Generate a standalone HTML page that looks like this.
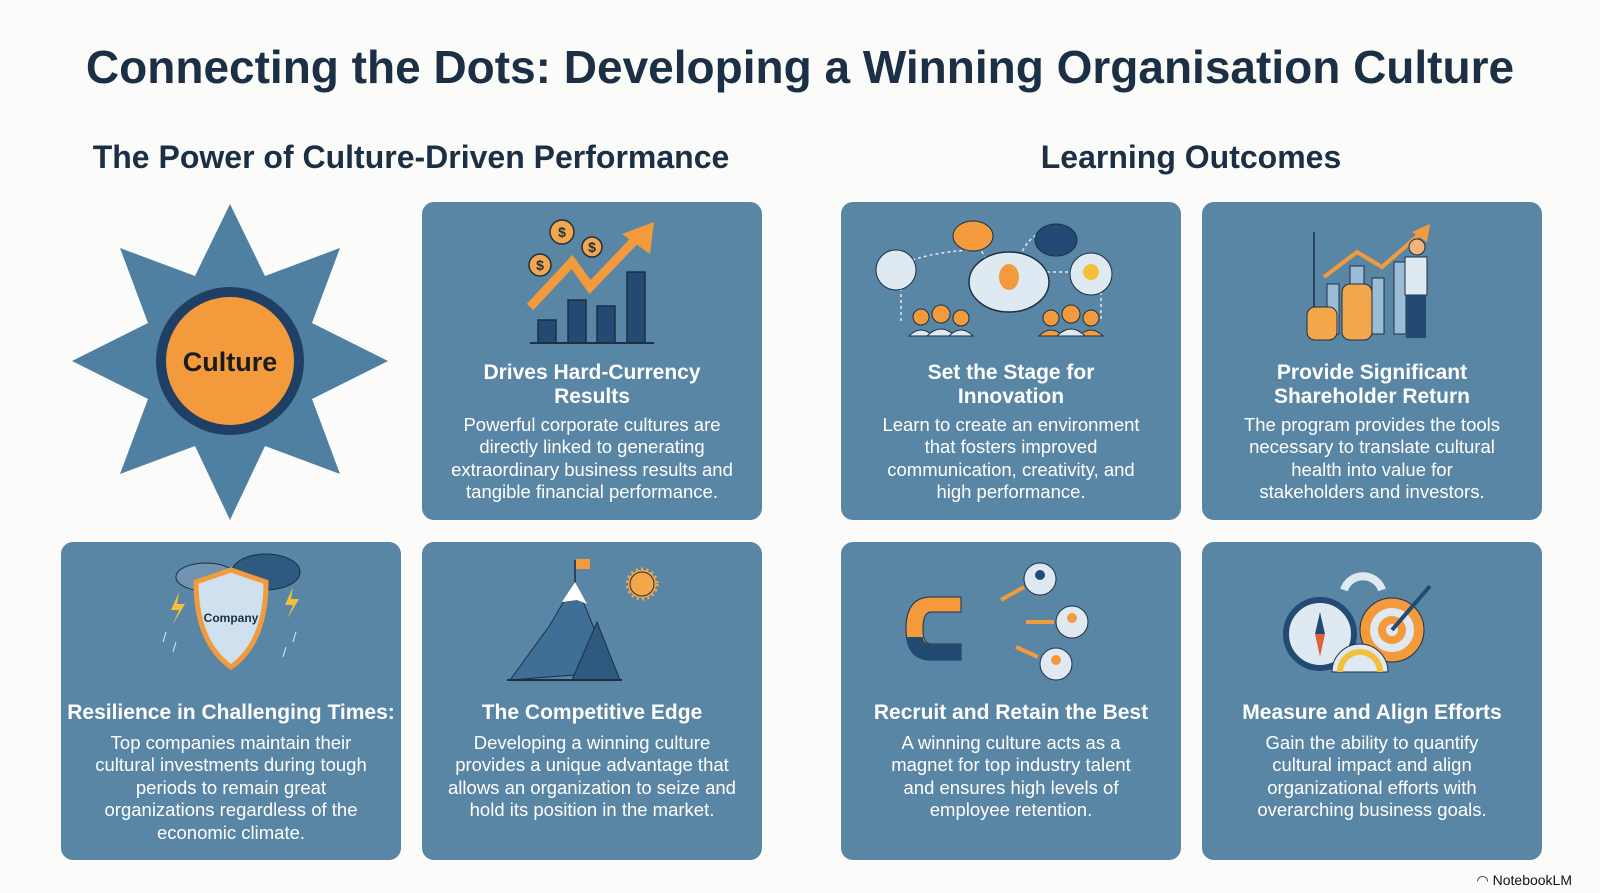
<!DOCTYPE html>
<html><head><meta charset="utf-8"><style>
*{margin:0;padding:0;box-sizing:border-box}
body{width:1600px;height:893px;background:#fbfbfa;font-family:"Liberation Sans",sans-serif;position:relative;overflow:hidden}
.t{position:absolute;left:0;width:1600px;text-align:center;top:40px;font-size:46px;font-weight:bold;color:#1b2f45}
.st{position:absolute;font-size:32px;font-weight:bold;color:#1b2f45;text-align:center;width:760px}
.card{position:absolute;width:340px;height:318px;background:#5a86a5;border-radius:12px;color:#fff;text-align:center}
.card h3{position:absolute;left:0;width:100%;font-size:21px;line-height:24px;font-weight:bold;white-space:nowrap}
.card p{position:absolute;left:0;right:0;font-size:18.5px;line-height:22.4px;white-space:nowrap}
.card svg{position:absolute;left:0;top:0}
.nb{position:absolute;right:28px;top:872px;font-size:14px;color:#111}
</style></head><body>
<div class="t">Connecting the Dots: Developing a Winning Organisation Culture</div>
<div class="st" style="left:31px;top:139px">The Power of Culture-Driven Performance</div>
<div class="st" style="left:811px;top:139px">Learning Outcomes</div>

<svg style="position:absolute;left:0;top:0" width="420" height="540">
<polygon fill="#4f7fa1" points="230,204 265,276 340,248 312,323 388,361 312,399 340,474 265,446 230,520 195,446 120,474 148,399 72,361 148,323 120,248 195,276"/>
<circle cx="230" cy="361" r="74" fill="#1f3f64"/>
<circle cx="230" cy="361" r="64" fill="#f39b3c"/>
<text x="230" y="371" text-anchor="middle" font-size="27" font-weight="bold" fill="#1b1b1b" font-family="Liberation Sans">Culture</text>
</svg>

<div class="card" style="left:422px;top:202px">
<svg width="340" height="150">
<g fill="#234a72" stroke="#1b2f45" stroke-width="1.5"><rect x="116" y="118" width="18" height="23"/><rect x="146" y="98" width="18" height="43"/><rect x="175" y="104" width="18" height="37"/><rect x="205" y="70" width="18" height="71"/></g>
<line x1="108" y1="141" x2="232" y2="141" stroke="#1b2f45" stroke-width="2"/>
<polyline points="108,105 150,60 168,85 215,36" fill="none" stroke="#f39b3c" stroke-width="9"/>
<polygon points="232,20 228,52 200,32" fill="#f39b3c"/>
<g fill="#f3a64a" stroke="#1b2f45" stroke-width="1.5"><circle cx="140" cy="30" r="12"/><circle cx="170" cy="45" r="10"/><circle cx="118" cy="63" r="11"/></g>
<g font-size="14" font-weight="bold" fill="#1b2f45" text-anchor="middle"><text x="140" y="35">$</text><text x="170" y="50">$</text><text x="118" y="68">$</text></g>
</svg>
<h3 style="top:159px">Drives Hard-Currency<br>Results</h3>
<p style="top:212px">Powerful corporate cultures are<br>directly linked to generating<br>extraordinary business results and<br>tangible financial performance.</p>
</div>

<div class="card" style="left:841px;top:202px">
<svg width="340" height="150">
<g fill="none" stroke="#dfe9f1" stroke-width="1.5" stroke-dasharray="3,3"><path d="M60 62 Q90 50 130 48 M120 28 Q140 40 150 70 M200 30 Q180 40 175 70 M200 70 L240 70 M60 80 L60 120 M260 90 L260 120"/></g>
<ellipse cx="132" cy="34" rx="20" ry="15" fill="#f39b3c" stroke="#1b2f45"/>
<ellipse cx="215" cy="38" rx="21" ry="16" fill="#234a72" stroke="#1b2f45"/>
<circle cx="55" cy="68" r="20" fill="#dfe9f1" stroke="#1b2f45"/>
<circle cx="250" cy="72" r="21" fill="#dfe9f1" stroke="#1b2f45"/>
<circle cx="250" cy="70" r="8" fill="#f3c03c"/>
<ellipse cx="168" cy="80" rx="40" ry="30" fill="#dfe9f1" stroke="#1b2f45" stroke-width="1.5"/>
<ellipse cx="168" cy="75" rx="10" ry="13" fill="#f39b3c"/>
<g fill="#f39b3c" stroke="#1b2f45"><circle cx="80" cy="115" r="8"/><circle cx="100" cy="112" r="9"/><circle cx="120" cy="116" r="8"/><circle cx="210" cy="116" r="8"/><circle cx="230" cy="112" r="9"/><circle cx="250" cy="116" r="8"/></g>
<g fill="#dfe9f1" stroke="#1b2f45"><path d="M68 134 Q80 122 92 134Z"/><path d="M86 134 Q100 120 114 134Z"/><path d="M108 134 Q120 122 132 134Z"/></g>
<g fill="#f39b3c" stroke="#1b2f45"><path d="M198 134 Q210 122 222 134Z"/><path d="M238 134 Q250 122 262 134Z"/></g>
<path d="M216 134 Q230 120 244 134Z" fill="#dfe9f1" stroke="#1b2f45"/>
</svg>
<h3 style="top:159px">Set the Stage for<br>Innovation</h3>
<p style="top:212px">Learn to create an environment<br>that fosters improved<br>communication, creativity, and<br>high performance.</p>
</div>

<div class="card" style="left:1202px;top:202px">
<svg width="340" height="150">
<line x1="112" y1="30" x2="112" y2="132" stroke="#1b2f45" stroke-width="1.5"/>
<g fill="#9bbcd6" stroke="#1b2f45"><rect x="125" y="82" width="12" height="50"/><rect x="148" y="64" width="14" height="68"/><rect x="170" y="76" width="12" height="56"/><rect x="192" y="60" width="12" height="72"/></g>
<polyline points="122,75 155,50 180,65 220,30" fill="none" stroke="#f39b3c" stroke-width="4"/>
<polygon points="228,22 225,40 210,30" fill="#f39b3c"/>
<g fill="#f3a64a" stroke="#1b2f45"><rect x="105" y="105" width="30" height="33" rx="8"/><rect x="140" y="82" width="30" height="56" rx="8"/></g>
<circle cx="215" cy="45" r="8" fill="#f3b27a" stroke="#1b2f45"/>
<rect x="203" y="55" width="22" height="38" fill="#dfe9f1" stroke="#1b2f45"/>
<rect x="204" y="93" width="20" height="43" fill="#234a72"/>
</svg>
<h3 style="top:159px">Provide Significant<br>Shareholder Return</h3>
<p style="top:212px">The program provides the tools<br>necessary to translate cultural<br>health into value for<br>stakeholders and investors.</p>
</div>

<div class="card" style="left:61px;top:542px">
<svg width="340" height="150">
<ellipse cx="145" cy="35" rx="30" ry="14" fill="#6f93b0" stroke="#1b2f45"/>
<ellipse cx="205" cy="30" rx="34" ry="18" fill="#2f5a80" stroke="#1b2f45"/>
<path d="M135 40 L170 28 L205 40 Q205 100 170 125 Q135 100 135 40Z" fill="#cfe0ee" stroke="#f39b3c" stroke-width="5"/>
<text x="170" y="80" text-anchor="middle" font-size="12" font-weight="bold" fill="#1b2f45">Company</text>
<g fill="#f3c03c"><polygon points="118,50 110,68 118,68 112,82 124,62 116,62"/><polygon points="232,45 224,63 232,63 226,77 238,57 230,57"/></g>
<g stroke="#dfe9f1" stroke-width="1"><line x1="105" y1="90" x2="102" y2="100"/><line x1="115" y1="100" x2="112" y2="110"/><line x1="235" y1="90" x2="232" y2="100"/><line x1="225" y1="105" x2="222" y2="115"/></g>
</svg>
<h3 style="top:159px">Resilience in Challenging Times:</h3>
<p style="top:190px">Top companies maintain their<br>cultural investments during tough<br>periods to remain great<br>organizations regardless of the<br>economic climate.</p>
</div>

<div class="card" style="left:422px;top:542px">
<svg width="340" height="150">
<polygon points="88,138 128,83 153,40 190,130" fill="#3f6f96" stroke="#1b2f45"/>
<polygon points="150,138 175,80 198,138" fill="#2f5a80" stroke="#1b2f45"/>
<polygon points="140,60 153,40 165,62 155,58" fill="#fff"/>
<line x1="153" y1="40" x2="153" y2="18" stroke="#1b2f45" stroke-width="1.5"/>
<rect x="154" y="17" width="14" height="10" fill="#f39b3c"/>
<circle cx="220" cy="42" r="14" fill="#f3a64a" stroke="#f3a64a" stroke-width="5" stroke-dasharray="2,3"/>
<circle cx="220" cy="42" r="12" fill="#f3a64a" stroke="#1b2f45"/>
<line x1="85" y1="138" x2="200" y2="138" stroke="#1b2f45" stroke-width="2"/>
</svg>
<h3 style="top:159px">The Competitive Edge</h3>
<p style="top:190px">Developing a winning culture<br>provides a unique advantage that<br>allows an organization to seize and<br>hold its position in the market.</p>
</div>

<div class="card" style="left:841px;top:542px">
<svg width="340" height="150">
<path d="M120 55 L90 55 Q65 55 65 87 Q65 118 90 118 L120 118 L120 102 L90 102 Q82 102 82 87 Q82 70 90 70 L120 70Z" fill="#f39b3c" stroke="#1b2f45"/>
<path d="M120 102 L90 102 Q82 102 82 95 L65 95 Q68 118 90 118 L120 118Z" fill="#234a72"/>
<g fill="#dfe9f1" stroke="#1b2f45"><circle cx="199" cy="37" r="16"/><circle cx="231" cy="80" r="16"/><circle cx="215" cy="122" r="16"/></g>
<g fill="#f39b3c"><circle cx="231" cy="76" r="5"/><circle cx="215" cy="118" r="5"/></g><circle cx="199" cy="33" r="5" fill="#234a72"/>
<g stroke="#f39b3c" stroke-width="4"><line x1="183" y1="45" x2="160" y2="58"/><line x1="213" y1="80" x2="185" y2="80"/><line x1="197" y1="115" x2="175" y2="105"/></g>
</svg>
<h3 style="top:159px">Recruit and Retain the Best</h3>
<p style="top:190px">A winning culture acts as a<br>magnet for top industry talent<br>and ensures high levels of<br>employee retention.</p>
</div>

<div class="card" style="left:1202px;top:542px">
<svg width="340" height="150">
<circle cx="118" cy="92" r="34" fill="#dfe9f1" stroke="#234a72" stroke-width="6"/>
<polygon points="118,70 123,92 113,92" fill="#234a72"/><polygon points="113,92 123,92 118,115" fill="#e0603a"/>
<circle cx="190" cy="88" r="32" fill="#f39b3c" stroke="#1b2f45"/><circle cx="190" cy="88" r="22" fill="#dfe9f1"/><circle cx="190" cy="88" r="14" fill="#f39b3c"/><circle cx="190" cy="88" r="6" fill="#dfe9f1"/>
<line x1="190" y1="88" x2="228" y2="44" stroke="#234a72" stroke-width="4"/>
<path d="M130 130 A28 28 0 0 1 186 130Z" fill="#dfe9f1" stroke="#1b2f45"/>
<path d="M138 130 A20 20 0 0 1 178 130" fill="none" stroke="#f3c03c" stroke-width="6"/>
<path d="M142 48 A20 20 0 0 1 180 48" fill="none" stroke="#dfe9f1" stroke-width="8"/>
</svg>
<h3 style="top:159px">Measure and Align Efforts</h3>
<p style="top:190px">Gain the ability to quantify<br>cultural impact and align<br>organizational efforts with<br>overarching business goals.</p>
</div>

<div class="nb">◠ NotebookLM</div>
</body></html>
